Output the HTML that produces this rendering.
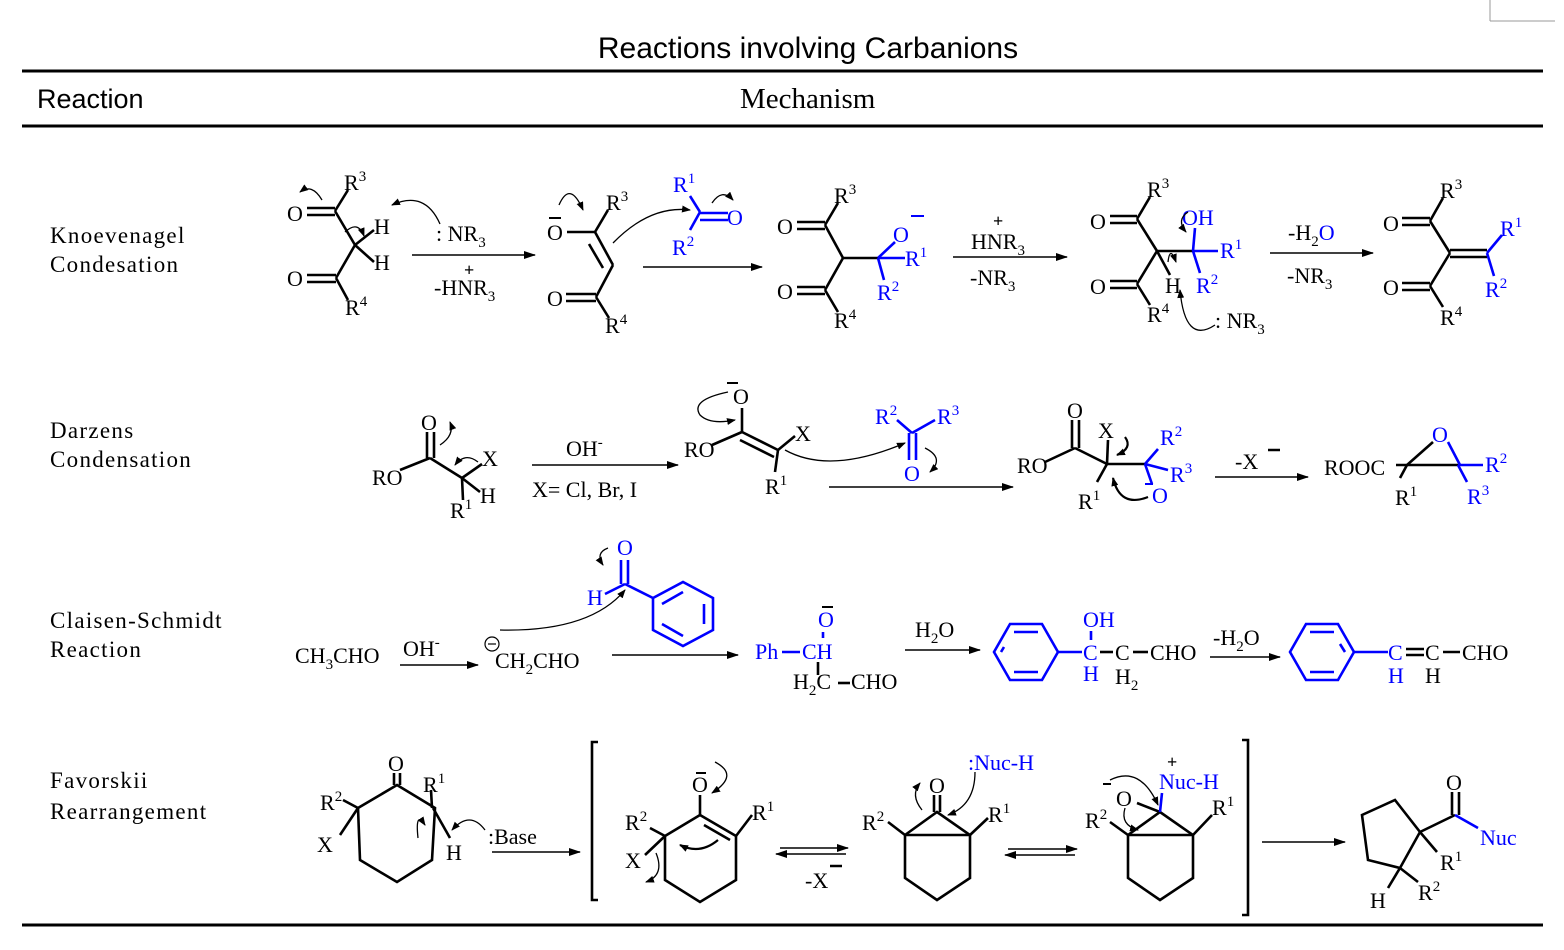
<!DOCTYPE html>
<html><head><style>
body{margin:0;background:#fff;}
svg{display:block;}
text{font-family:"Liberation Serif",serif;font-size:22px;fill:#000;}
.b{fill:#00f;}
.s{font-family:"Liberation Sans",sans-serif;}
.sm{font-size:15px;}
.lab{font-size:23px;letter-spacing:1.3px;}
line,polyline,polygon,path{stroke:#000;stroke-width:2.6;fill:none;}
.bl{stroke:#00f;}
.ar{stroke-width:1.4;}
.cv{stroke-width:1.3;}
</style></head><body>
<svg width="1564" height="950" viewBox="0 0 1564 950" xmlns="http://www.w3.org/2000/svg">
<defs>
<marker id="a" markerWidth="12" markerHeight="8" refX="11" refY="4" orient="auto" markerUnits="userSpaceOnUse"><path d="M0,0 L12,4 L0,8 z" style="fill:#000;stroke:none"/></marker>
<marker id="c" markerWidth="9" markerHeight="7" refX="8" refY="3.5" orient="auto" markerUnits="userSpaceOnUse"><path d="M0,0 L9,3.5 L0,7 z" style="fill:#000;stroke:none"/></marker>
</defs>
<line x1="1490" y1="0" x2="1490" y2="21" style="stroke:#999;stroke-width:1"/>
<line x1="1490" y1="21" x2="1555" y2="21" style="stroke:#999;stroke-width:1"/>
<text x="808" y="58" class="s" style="font-size:30px" text-anchor="middle">Reactions involving Carbanions</text>
<line x1="22" y1="71" x2="1543" y2="71" style="stroke-width:3"/>
<text x="37" y="108" class="s" style="font-size:27px">Reaction</text>
<text x="740" y="108" style="font-size:29px">Mechanism</text>
<line x1="22" y1="126" x2="1543" y2="126" style="stroke-width:3"/>
<line x1="22" y1="925" x2="1543" y2="925" style="stroke-width:3"/>

<text class="lab" x="50" y="243">Knoevenagel</text><text class="lab" x="50" y="272">Condesation</text>
<text class="lab" x="50" y="438">Darzens</text><text class="lab" x="50" y="467">Condensation</text>
<text class="lab" x="50" y="628">Claisen-Schmidt</text><text class="lab" x="50" y="657">Reaction</text>
<text class="lab" x="50" y="788">Favorskii</text><text class="lab" x="50" y="819">Rearrangement</text>

<!-- ===== Knoevenagel ===== -->
<text x="287" y="221">O</text>
<line x1="307" y1="208" x2="335" y2="208"/><line x1="307" y1="215" x2="335" y2="215"/>
<line x1="335" y1="211" x2="348" y2="190"/><text x="344" y="190">R<tspan class="sm" dy="-9">3</tspan></text>
<line x1="335" y1="211" x2="355" y2="245"/>
<line x1="355" y1="245" x2="374" y2="230"/><text x="374" y="234">H</text>
<line x1="355" y1="245" x2="374" y2="262"/><text x="374" y="270">H</text>
<line x1="355" y1="245" x2="336" y2="278"/>
<text x="287" y="286">O</text>
<line x1="307" y1="275" x2="336" y2="275"/><line x1="307" y1="282" x2="336" y2="282"/>
<line x1="336" y1="278" x2="348" y2="300"/><text x="345" y="315">R<tspan class="sm" dy="-9">4</tspan></text>
<path class="cv" d="M322,200 Q312,183 300,192" marker-end="url(#c)"/>
<path class="cv" d="M345,232 Q358,220 364,236" marker-end="url(#c)"/>
<path class="cv" d="M440,224 Q425,190 392,205" marker-end="url(#c)"/>
<text x="436" y="241">: NR<tspan class="sm" dy="6">3</tspan></text>
<line class="ar" x1="412" y1="255" x2="535" y2="255" marker-end="url(#a)"/>
<text x="434" y="295">-HNR<tspan class="sm" dy="6">3</tspan></text>
<text x="464" y="276" style="font-weight:bold;font-size:18px">+</text>

<text x="547" y="240">O</text><line x1="549" y1="218" x2="561" y2="218" style="stroke-width:2"/>
<line x1="567" y1="232" x2="595" y2="232"/>
<line x1="595" y1="232" x2="608" y2="210"/><text x="606" y="210">R<tspan class="sm" dy="-9">3</tspan></text>
<line x1="595" y1="232" x2="613" y2="265"/><line x1="589" y1="244" x2="603" y2="268"/>
<line x1="613" y1="265" x2="596" y2="297"/>
<text x="547" y="306">O</text>
<line x1="566" y1="294" x2="596" y2="294"/><line x1="566" y1="301" x2="596" y2="301"/>
<line x1="596" y1="297" x2="609" y2="318"/><text x="605" y="333">R<tspan class="sm" dy="-9">4</tspan></text>
<path class="cv" d="M559,205 Q570,180 583,210" marker-end="url(#c)"/>
<path class="cv" d="M613,243 Q650,205 690,210" marker-end="url(#c)"/>
<text x="673" y="192" class="b">R<tspan class="sm" dy="-9">1</tspan></text>
<line class="bl" x1="690" y1="196" x2="700" y2="212"/>
<line class="bl" x1="700" y1="212" x2="690" y2="230"/>
<line class="bl" x1="700" y1="213" x2="728" y2="213"/><line class="bl" x1="700" y1="220" x2="728" y2="220"/>
<text x="727" y="225" class="b">O</text>
<text x="672" y="255" class="b">R<tspan class="sm" dy="-9">2</tspan></text>
<path class="cv" d="M712,203 Q722,188 733,200" marker-end="url(#c)"/>
<line class="ar" x1="643" y1="267" x2="762" y2="267" marker-end="url(#a)"/>

<text x="777" y="234">O</text>
<line x1="797" y1="222" x2="825" y2="222"/><line x1="797" y1="229" x2="825" y2="229"/>
<line x1="825" y1="225" x2="838" y2="203"/><text x="834" y="203">R<tspan class="sm" dy="-9">3</tspan></text>
<line x1="825" y1="225" x2="843" y2="258"/>
<line x1="843" y1="258" x2="825" y2="290"/>
<text x="777" y="299">O</text>
<line x1="797" y1="287" x2="825" y2="287"/><line x1="797" y1="294" x2="825" y2="294"/>
<line x1="825" y1="290" x2="838" y2="312"/><text x="834" y="328">R<tspan class="sm" dy="-9">4</tspan></text>
<line x1="843" y1="258" x2="878" y2="258"/>
<line class="bl" x1="878" y1="258" x2="895" y2="242"/><text x="893" y="242" class="b">O</text>
<line x1="911" y1="216" x2="924" y2="216" style="stroke:#00f;stroke-width:2"/>
<line class="bl" x1="878" y1="258" x2="905" y2="258"/><text x="905" y="266" class="b">R<tspan class="sm" dy="-9">1</tspan></text>
<line class="bl" x1="878" y1="258" x2="884" y2="280"/><text x="877" y="300" class="b">R<tspan class="sm" dy="-9">2</tspan></text>
<text x="971" y="249">HNR<tspan class="sm" dy="6">3</tspan></text>
<text x="993" y="227" style="font-weight:bold;font-size:18px">+</text>
<line class="ar" x1="953" y1="257" x2="1067" y2="257" marker-end="url(#a)"/>
<text x="970" y="285">-NR<tspan class="sm" dy="6">3</tspan></text>

<text x="1090" y="229">O</text>
<line x1="1110" y1="216" x2="1137" y2="216"/><line x1="1110" y1="223" x2="1137" y2="223"/>
<line x1="1137" y1="219" x2="1150" y2="197"/><text x="1147" y="197">R<tspan class="sm" dy="-9">3</tspan></text>
<line x1="1137" y1="219" x2="1157" y2="251"/>
<line x1="1157" y1="251" x2="1137" y2="284"/>
<text x="1090" y="294">O</text>
<line x1="1110" y1="281" x2="1137" y2="281"/><line x1="1110" y1="288" x2="1137" y2="288"/>
<line x1="1137" y1="284" x2="1150" y2="305"/><text x="1147" y="322">R<tspan class="sm" dy="-9">4</tspan></text>
<line x1="1157" y1="251" x2="1170" y2="275"/><text x="1165" y="293">H</text>
<line x1="1157" y1="251" x2="1193" y2="251"/>
<line class="bl" x1="1193" y1="251" x2="1195" y2="228"/><text x="1182" y="225" class="b">OH</text>
<line class="bl" x1="1193" y1="251" x2="1218" y2="251"/><text x="1220" y="258" class="b">R<tspan class="sm" dy="-9">1</tspan></text>
<line class="bl" x1="1193" y1="251" x2="1200" y2="273"/><text x="1196" y="293" class="b">R<tspan class="sm" dy="-9">2</tspan></text>
<path class="cv" d="M1188,212 Q1176,220 1186,232" marker-end="url(#c)"/>
<path class="cv" d="M1168,262 Q1170,245 1176,262" marker-end="url(#c)"/>
<path class="cv" d="M1215,325 Q1185,345 1180,290" marker-end="url(#c)"/>
<text x="1215" y="328">: NR<tspan class="sm" dy="6">3</tspan></text>
<text x="1288" y="240">-H<tspan class="sm" dy="6">2</tspan><tspan class="b" dy="-6">O</tspan></text>
<line class="ar" x1="1270" y1="253" x2="1373" y2="253" marker-end="url(#a)"/>
<text x="1287" y="283">-NR<tspan class="sm" dy="6">3</tspan></text>

<text x="1383" y="231">O</text>
<line x1="1402" y1="218" x2="1430" y2="218"/><line x1="1402" y1="225" x2="1430" y2="225"/>
<line x1="1430" y1="221" x2="1443" y2="198"/><text x="1440" y="198">R<tspan class="sm" dy="-9">3</tspan></text>
<line x1="1430" y1="221" x2="1450" y2="253"/>
<line x1="1450" y1="253" x2="1430" y2="286"/>
<text x="1383" y="295">O</text>
<line x1="1402" y1="283" x2="1430" y2="283"/><line x1="1402" y1="290" x2="1430" y2="290"/>
<line x1="1430" y1="286" x2="1443" y2="307"/><text x="1440" y="325">R<tspan class="sm" dy="-9">4</tspan></text>
<line x1="1450" y1="250" x2="1487" y2="250"/><line x1="1450" y1="257" x2="1487" y2="257"/>
<line class="bl" x1="1487" y1="253" x2="1502" y2="235"/><text x="1500" y="236" class="b">R<tspan class="sm" dy="-9">1</tspan></text>
<line class="bl" x1="1487" y1="253" x2="1494" y2="276"/><text x="1485" y="297" class="b">R<tspan class="sm" dy="-9">2</tspan></text>

<!-- ===== Darzens ===== -->
<text x="372" y="485">RO</text>
<line x1="400" y1="470" x2="430" y2="458"/>
<line x1="427" y1="458" x2="427" y2="432"/><line x1="434" y1="458" x2="434" y2="432"/><text x="421" y="430">O</text>
<line x1="430" y1="458" x2="462" y2="478"/>
<line x1="462" y1="478" x2="482" y2="464"/><text x="482" y="466">X</text>
<line x1="462" y1="478" x2="480" y2="492"/><text x="480" y="503">H</text>
<line x1="462" y1="478" x2="463" y2="500"/><text x="450" y="518">R<tspan class="sm" dy="-9">1</tspan></text>
<path class="cv" d="M440,445 Q455,435 450,422" marker-end="url(#c)"/>
<path class="cv" d="M478,462 Q465,452 455,465" marker-end="url(#c)"/>
<text x="566" y="456">OH<tspan class="sm" dy="-9">-</tspan></text>
<line class="ar" x1="532" y1="465" x2="678" y2="465" marker-end="url(#a)"/>
<text x="532" y="497">X= Cl, Br, I</text>

<text x="733" y="404">O</text><line x1="727" y1="383" x2="738" y2="383" style="stroke-width:2"/>
<line x1="742" y1="408" x2="742" y2="432"/>
<text x="684" y="457">RO</text>
<line x1="712" y1="445" x2="742" y2="432"/>
<line x1="742" y1="432" x2="778" y2="450"/><line x1="740" y1="440" x2="774" y2="457"/>
<line x1="778" y1="450" x2="795" y2="436"/><text x="795" y="441">X</text>
<line x1="778" y1="450" x2="775" y2="472"/><text x="765" y="494">R<tspan class="sm" dy="-9">1</tspan></text>
<path class="cv" d="M728,392 Q690,400 700,415 Q710,425 735,420" marker-end="url(#c)"/>
<path class="cv" d="M785,450 Q830,475 905,443" marker-end="url(#c)"/>
<text x="875" y="424" class="b">R<tspan class="sm" dy="-9">2</tspan></text>
<text x="937" y="424" class="b">R<tspan class="sm" dy="-9">3</tspan></text>
<line class="bl" x1="897" y1="420" x2="912" y2="433"/><line class="bl" x1="912" y1="433" x2="935" y2="420"/>
<line class="bl" x1="909" y1="433" x2="909" y2="460"/><line class="bl" x1="916" y1="433" x2="916" y2="460"/>
<text x="904" y="481" class="b">O</text>
<path class="cv" d="M925,448 Q945,458 930,472" marker-end="url(#c)"/>
<line class="ar" x1="829" y1="487" x2="1013" y2="487" marker-end="url(#a)"/>

<text x="1017" y="473">RO</text>
<line x1="1045" y1="462" x2="1075" y2="448"/>
<line x1="1072" y1="448" x2="1072" y2="420"/><line x1="1079" y1="448" x2="1079" y2="420"/><text x="1067" y="418">O</text>
<line x1="1075" y1="448" x2="1107" y2="464"/>
<line x1="1107" y1="464" x2="1108" y2="440"/><text x="1098" y="438">X</text>
<line x1="1107" y1="464" x2="1097" y2="482"/><text x="1078" y="509">R<tspan class="sm" dy="-9">1</tspan></text>
<line x1="1107" y1="464" x2="1145" y2="464"/>
<line class="bl" x1="1145" y1="464" x2="1158" y2="449"/><text x="1160" y="445" class="b">R<tspan class="sm" dy="-9">2</tspan></text>
<line class="bl" x1="1145" y1="464" x2="1168" y2="470"/><text x="1170" y="482" class="b">R<tspan class="sm" dy="-9">3</tspan></text>
<line class="bl" x1="1145" y1="464" x2="1152" y2="484"/><text x="1152" y="503" class="b">O</text>
<line x1="1145" y1="484" x2="1153" y2="484" style="stroke:#00f;stroke-width:2"/>
<path class="cv" d="M1125,437 Q1133,448 1117,455" marker-end="url(#c)" style="stroke-width:2.2"/>
<path class="cv" d="M1148,497 Q1120,508 1113,478" marker-end="url(#c)" style="stroke-width:2.2"/>
<text x="1235" y="469">-X</text><line x1="1268" y1="450" x2="1280" y2="450" style="stroke-width:2.5"/>
<line class="ar" x1="1215" y1="477" x2="1308" y2="477" marker-end="url(#a)"/>

<text x="1324" y="475">ROOC</text>
<line x1="1396" y1="465" x2="1458" y2="465"/>
<line x1="1407" y1="465" x2="1400" y2="478"/><text x="1395" y="505">R<tspan class="sm" dy="-9">1</tspan></text>
<line x1="1407" y1="465" x2="1433" y2="442"/>
<text x="1432" y="442" class="b">O</text>
<line class="bl" x1="1448" y1="442" x2="1460" y2="465"/>
<line class="bl" x1="1458" y1="465" x2="1483" y2="465"/><text x="1485" y="472" class="b">R<tspan class="sm" dy="-9">2</tspan></text>
<line class="bl" x1="1458" y1="465" x2="1467" y2="482"/><text x="1467" y="504" class="b">R<tspan class="sm" dy="-9">3</tspan></text>

<!-- ===== Claisen-Schmidt ===== -->
<text x="295" y="663">CH<tspan class="sm" dy="6">3</tspan><tspan dy="-6">CHO</tspan></text>
<text x="403" y="656">OH<tspan class="sm" dy="-9">-</tspan></text>
<line class="ar" x1="400" y1="665" x2="478" y2="665" marker-end="url(#a)"/>
<circle cx="492" cy="644" r="7" style="fill:none;stroke:#000;stroke-width:1.2"/><line x1="488" y1="644" x2="496" y2="644" style="stroke-width:1.2"/>
<text x="495" y="668">CH<tspan class="sm" dy="6">2</tspan><tspan dy="-6">CHO</tspan></text>
<path class="cv" d="M500,630 Q590,632 625,590" marker-end="url(#c)"/>
<text x="617" y="555" class="b">O</text>
<line class="bl" x1="621" y1="560" x2="621" y2="584"/><line class="bl" x1="628" y1="560" x2="628" y2="584"/>
<line class="bl" x1="625" y1="584" x2="605" y2="594"/><text x="587" y="605" class="b">H</text>
<line class="bl" x1="625" y1="584" x2="653" y2="598"/>
<polygon class="bl" points="653,598 683,582 713,598 713,630 683,646 653,630"/>
<line class="bl" x1="662" y1="604" x2="683" y2="592"/><line class="bl" x1="704" y1="604" x2="704" y2="624"/><line class="bl" x1="662" y1="624" x2="683" y2="636"/>
<path class="cv" d="M608,548 Q595,553 603,565" marker-end="url(#c)"/>
<line class="ar" x1="612" y1="655" x2="738" y2="655" marker-end="url(#a)"/>

<text x="755" y="659" class="b">Ph</text><line class="bl" x1="782" y1="652" x2="800" y2="652"/>
<text x="802" y="659" class="b">CH</text>
<line class="bl" x1="823" y1="632" x2="823" y2="638"/>
<text x="818" y="627" class="b">O</text><line x1="822" y1="607" x2="833" y2="607" style="stroke-width:2"/>
<line x1="818" y1="662" x2="818" y2="675"/>
<text x="793" y="689">H<tspan class="sm" dy="6">2</tspan><tspan dy="-6">C</tspan></text>
<line x1="838" y1="683" x2="850" y2="683"/><text x="851" y="689">CHO</text>
<text x="915" y="637">H<tspan class="sm" dy="6">2</tspan><tspan dy="-6">O</tspan></text>
<line class="ar" x1="905" y1="650" x2="980" y2="650" marker-end="url(#a)"/>

<polygon class="bl" points="994,652 1010,624 1042,624 1058,652 1042,680 1010,680"/>
<line class="bl" x1="1014" y1="632" x2="1038" y2="632"/><line class="bl" x1="1014" y1="672" x2="1038" y2="672"/><line class="bl" x1="1001" y1="652" x2="1004" y2="647"/>
<line class="bl" x1="1058" y1="652" x2="1082" y2="652"/>
<text x="1083" y="660" class="b">C</text>
<text x="1083" y="627" class="b">OH</text><line class="bl" x1="1091" y1="631" x2="1091" y2="640"/>
<text x="1083" y="681" class="b">H</text>
<line x1="1100" y1="652" x2="1113" y2="652"/><text x="1115" y="660">C</text>
<line x1="1133" y1="652" x2="1148" y2="652"/><text x="1150" y="660">CHO</text>
<text x="1115" y="684">H<tspan class="sm" dy="6">2</tspan></text>
<text x="1213" y="645">-H<tspan class="sm" dy="6">2</tspan><tspan dy="-6">O</tspan></text>
<line class="ar" x1="1210" y1="657" x2="1280" y2="657" marker-end="url(#a)"/>

<polygon class="bl" points="1290,652 1306,624 1338,624 1354,652 1338,680 1306,680"/>
<line class="bl" x1="1310" y1="632" x2="1334" y2="632"/><line class="bl" x1="1310" y1="672" x2="1334" y2="672"/><line class="bl" x1="1345" y1="652" x2="1340" y2="644"/>
<line class="bl" x1="1354" y1="652" x2="1388" y2="652"/>
<text x="1388" y="660" class="b">C</text><text x="1388" y="683" class="b">H</text>
<line x1="1406" y1="649" x2="1424" y2="649"/><line x1="1406" y1="655" x2="1424" y2="655"/>
<text x="1425" y="660">C</text><text x="1425" y="683">H</text>
<line x1="1443" y1="652" x2="1460" y2="652"/><text x="1462" y="660">CHO</text>

<!-- ===== Favorskii ===== -->
<polygon points="397,785 435,808 432,860 397,882 360,860 358,808"/>
<line x1="394" y1="785" x2="394" y2="773"/><line x1="400" y1="785" x2="400" y2="773"/>
<text x="388" y="771">O</text>
<line x1="358" y1="808" x2="343" y2="800"/><text x="320" y="810">R<tspan class="sm" dy="-9">2</tspan></text>
<line x1="358" y1="808" x2="340" y2="835"/><text x="317" y="852">X</text>
<line x1="432" y1="808" x2="431" y2="790"/><text x="423" y="792">R<tspan class="sm" dy="-9">1</tspan></text>
<line x1="433" y1="808" x2="450" y2="838"/><text x="446" y="860">H</text>
<path class="cv" d="M418,838 Q415,810 425,825" marker-end="url(#c)"/>
<path class="cv" d="M485,830 Q470,810 452,830" marker-end="url(#c)"/>
<text x="488" y="844">:Base</text>
<line class="ar" x1="492" y1="852" x2="580" y2="852" marker-end="url(#a)"/>
<polyline points="598,742 592,742 592,900 598,900"/>

<polygon points="700,815 736,836 736,880 700,902 665,880 665,836"/>
<line x1="704" y1="825" x2="730" y2="840"/>
<line x1="700" y1="815" x2="700" y2="795"/><text x="692" y="792">O</text><line x1="696" y1="773" x2="706" y2="773" style="stroke-width:2"/>
<line x1="736" y1="836" x2="752" y2="815"/><text x="752" y="820">R<tspan class="sm" dy="-9">1</tspan></text>
<line x1="665" y1="836" x2="650" y2="828"/><text x="625" y="830">R<tspan class="sm" dy="-9">2</tspan></text>
<line x1="665" y1="836" x2="645" y2="855"/><text x="625" y="868">X</text>
<path class="cv" d="M715,762 Q740,775 712,793" marker-end="url(#c)"/>
<path class="cv" d="M718,840 Q700,855 680,845" marker-end="url(#c)" style="stroke-width:2.2"/>
<path class="cv" d="M656,853 Q665,875 646,882" marker-end="url(#c)"/>
<line class="ar" x1="780" y1="848" x2="848" y2="848" marker-end="url(#a)"/>
<line class="ar" x1="846" y1="854" x2="776" y2="854" marker-end="url(#a)"/>
<text x="805" y="888">-X</text><line x1="830" y1="866" x2="842" y2="866" style="stroke-width:2.5"/>

<polygon points="905,835 937,812 970,835 970,878 937,900 905,878"/>
<line x1="905" y1="835" x2="970" y2="835"/>
<line x1="934" y1="812" x2="934" y2="795"/><line x1="940" y1="812" x2="940" y2="795"/>
<text x="929" y="793">O</text>
<line x1="905" y1="835" x2="888" y2="822"/><text x="862" y="830">R<tspan class="sm" dy="-9">2</tspan></text>
<line x1="970" y1="835" x2="988" y2="818"/><text x="988" y="822">R<tspan class="sm" dy="-9">1</tspan></text>
<path class="cv" d="M922,810 Q910,795 920,783" marker-end="url(#c)"/>
<path class="cv" d="M975,772 Q975,805 948,815" marker-end="url(#c)"/>
<text x="968" y="770" class="b">:Nuc-H</text>
<line class="ar" x1="1008" y1="849" x2="1077" y2="849" marker-end="url(#a)"/>
<line class="ar" x1="1075" y1="855" x2="1005" y2="855" marker-end="url(#a)"/>

<polygon points="1128,835 1160,812 1193,835 1193,878 1160,900 1128,878"/>
<line x1="1128" y1="835" x2="1193" y2="835"/>
<line x1="1160" y1="812" x2="1137" y2="803"/><text x="1116" y="806">O</text><line x1="1103" y1="784" x2="1111" y2="784" style="stroke-width:2"/>
<line class="bl" x1="1160" y1="812" x2="1162" y2="793"/><text x="1159" y="789" class="b">Nuc-H</text>
<text x="1167" y="768" style="font-weight:bold;font-size:18px">+</text>
<line x1="1128" y1="835" x2="1110" y2="822"/><text x="1085" y="828">R<tspan class="sm" dy="-9">2</tspan></text>
<line x1="1193" y1="835" x2="1212" y2="815"/><text x="1212" y="815">R<tspan class="sm" dy="-9">1</tspan></text>
<path class="cv" d="M1110,780 Q1140,765 1158,805" marker-end="url(#c)"/>
<path class="cv" d="M1125,808 Q1120,825 1138,830" marker-end="url(#c)"/>
<polyline points="1242,740 1248,740 1248,915 1242,915"/>
<line class="ar" x1="1262" y1="842" x2="1345" y2="842" marker-end="url(#a)"/>

<polygon points="1420,832 1400,868 1368,860 1362,815 1395,800"/>
<line x1="1420" y1="832" x2="1455" y2="815"/>
<line x1="1452" y1="815" x2="1452" y2="792"/><line x1="1459" y1="815" x2="1459" y2="792"/>
<text x="1446" y="790">O</text>
<line class="bl" x1="1455" y1="815" x2="1478" y2="828"/><text x="1480" y="845" class="b">Nuc</text>
<line x1="1420" y1="832" x2="1437" y2="852"/><text x="1440" y="870">R<tspan class="sm" dy="-9">1</tspan></text>
<line x1="1400" y1="868" x2="1388" y2="888"/><text x="1370" y="908">H</text>
<line x1="1400" y1="868" x2="1418" y2="882"/><text x="1418" y="900">R<tspan class="sm" dy="-9">2</tspan></text>
</svg>
</body></html>
